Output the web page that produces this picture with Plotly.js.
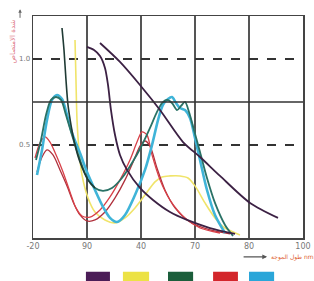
<!DOCTYPE html>
<html>
<head>
<meta charset="utf-8">
<script src="https://cdn.plot.ly/plotly-3.0.1.min.js"></script>
<style>html,body{margin:0;padding:0;background:#fff;}#chart{width:314px;height:281px;}</style>
</head>
<body>
<div id="chart"></div>
<script>
// Tick labels along x (as printed)
const xTickVals = [200, 300, 400, 500, 600, 700];
const xTickText = ["-20", "90", "40", "70", "80", "100"];
const yTickVals = [0.5, 1.0];
const yTickText = ["0.5", "1.0"];

// Series colours (also used for the legend swatches)
const seriesColors = {purple: "#4b1d57", yellow: "#ece245", green: "#1b5e3b", red: "#d3262b", blue: "#2aa6d9"};

// Purple – long decay
const purpleLongX = [324.1, 361.1, 398.1, 435.2, 477.8, 509.3, 546.3, 601.9, 653.7];
const purpleLongY = [1.093, 0.983, 0.849, 0.703, 0.517, 0.430, 0.320, 0.163, 0.076];

// Purple – steep decay
const purpleSteepX = [300.0, 313.0, 324.1, 333.3, 338.9, 344.4, 351.9, 361.1, 374.1, 398.1, 422.2, 453.7, 485.2, 527.8, 574.1];
const purpleSteepY = [1.070, 1.052, 1.017, 0.948, 0.849, 0.703, 0.558, 0.442, 0.355, 0.250, 0.180, 0.110, 0.064, 0.017, -0.017];

// Dark spike
const spikeX = [253.7, 257.4, 261.1, 264.8, 270.4, 277.8, 287.0, 301.9, 314.8];
const spikeY = [1.180, 1.052, 0.878, 0.733, 0.616, 0.500, 0.401, 0.297, 0.250];

// Green
const greenX = [205.6, 214.8, 224.1, 233.3, 242.6, 251.9, 261.1, 272.2, 287.0, 301.9, 314.8, 329.6, 346.3, 364.8, 383.3, 401.9, 416.7, 429.6, 438.9, 448.1, 457.4, 466.7, 474.1, 481.5, 488.9, 498.1, 509.3, 522.2, 537.0, 555.6, 570.4];
const greenY = [0.413, 0.529, 0.674, 0.762, 0.779, 0.762, 0.674, 0.558, 0.413, 0.297, 0.250, 0.233, 0.250, 0.308, 0.395, 0.500, 0.599, 0.692, 0.744, 0.762, 0.744, 0.703, 0.727, 0.750, 0.692, 0.587, 0.459, 0.308, 0.163, 0.035, -0.029];

// Blue
const blueX = [207.4, 216.7, 225.9, 235.2, 244.4, 253.7, 263.0, 272.2, 287.0, 300.0, 314.8, 329.6, 342.6, 355.6, 370.4, 388.9, 407.4, 420.4, 431.5, 440.7, 450.0, 457.4, 464.8, 472.2, 481.5, 490.7, 500.0, 509.3, 522.2, 537.0, 555.6];
const blueY = [0.326, 0.471, 0.645, 0.762, 0.791, 0.767, 0.674, 0.570, 0.453, 0.343, 0.238, 0.140, 0.076, 0.052, 0.093, 0.209, 0.355, 0.500, 0.645, 0.733, 0.767, 0.779, 0.744, 0.715, 0.703, 0.657, 0.541, 0.413, 0.238, 0.093, -0.012];

// Red (two traces)
const redAX = [203.7, 213.0, 222.2, 231.5, 244.4, 255.6, 268.5, 279.6, 290.7, 305.6, 324.1, 342.6, 361.1, 379.6, 392.6, 401.9, 411.1, 420.4, 435.2, 453.7, 481.5, 509.3, 546.3];
const redAY = [0.424, 0.512, 0.547, 0.517, 0.430, 0.343, 0.227, 0.134, 0.087, 0.081, 0.122, 0.198, 0.297, 0.413, 0.517, 0.576, 0.558, 0.442, 0.297, 0.180, 0.076, 0.017, -0.012];
const redBX = [207.4, 216.7, 225.9, 237.0, 250.0, 263.0, 275.9, 287.0, 300.0, 314.8, 333.3, 351.9, 370.4, 387.0, 398.1, 407.4, 416.7, 429.6, 444.4, 463.0, 490.7, 527.8, 564.8];
const redBY = [0.343, 0.430, 0.471, 0.442, 0.355, 0.262, 0.157, 0.093, 0.058, 0.064, 0.110, 0.192, 0.297, 0.413, 0.494, 0.523, 0.494, 0.366, 0.238, 0.134, 0.052, 0.006, -0.017];

// Yellow
const yellowX = [277.8, 279.6, 281.5, 285.2, 290.7, 301.9, 314.8, 333.3, 351.9, 370.4, 388.9, 407.4, 425.9, 438.9, 453.7, 472.2, 487.0, 500.0, 518.5, 537.0, 555.6, 583.3];
const yellowY = [1.110, 0.878, 0.645, 0.471, 0.326, 0.192, 0.110, 0.064, 0.047, 0.076, 0.134, 0.209, 0.285, 0.314, 0.320, 0.320, 0.308, 0.262, 0.163, 0.076, 0.017, -0.023];

const legendOrder = ["purple", "yellow", "green", "red", "blue"];

function line(x, y, color, width) {
  return {x: x, y: y, type: "scatter", mode: "lines", line: {color: color, width: width, shape: "spline", smoothing: 0.8}, hoverinfo: "skip"};
}

const traces = [
  line(yellowX, yellowY, "#f0e46a", 1.6),
  line(redBX, redBY, "#b0303c", 1.3),
  line(redAX, redAY, "#d84048", 1.3),
  line(blueX, blueY, "#3fb4d8", 2.6),
  line(greenX, greenY, "#2a7266", 1.8),
  line(spikeX, spikeY, "#1f3a34", 1.6),
  line(purpleSteepX, purpleSteepY, "#3c2144", 1.8),
  line(purpleLongX, purpleLongY, "#3c2144", 1.8)
];

const shapes = [
  {type: "line", xref: "paper", x0: 0, x1: 1, yref: "y", y0: 0.75, y1: 0.75, line: {color: "#333", width: 1.5}}
];
const swatchX = [[0.196, 0.285], [0.333, 0.430], [0.500, 0.593], [0.667, 0.759], [0.800, 0.893]];
legendOrder.forEach((k, i) => {
  shapes.push({type: "rect", xref: "paper", yref: "paper", x0: swatchX[i][0], x1: swatchX[i][1], y0: -0.2, y1: -0.152, fillcolor: seriesColors[k], line: {width: 0}});
});

const layout = {
  width: 314, height: 281,
  margin: {l: 33, r: 11, t: 16, b: 43},
  paper_bgcolor: "#fff", plot_bgcolor: "#fff",
  showlegend: false,
  font: {family: "DejaVu Sans", size: 8, color: "#666"},
  xaxis: {
    range: [200, 700], tickvals: xTickVals, ticktext: xTickText,
    showgrid: true, gridcolor: "#555", gridwidth: 1.5,
    showline: true, mirror: true, linecolor: "#444", linewidth: 1.5,
    zeroline: false, ticks: "", tickfont: {size: 8, color: "#777"}
  },
  yaxis: {
    range: [-0.041, 1.25], tickvals: yTickVals, ticktext: yTickText,
    showgrid: true, gridcolor: "#333", gridwidth: 1.3, griddash: "dash",
    showline: true, mirror: true, linecolor: "#444", linewidth: 1.5,
    zeroline: false, ticks: "", tickfont: {size: 7, color: "#777"}
  },
  shapes: shapes,
  annotations: [
    {xref: "paper", yref: "paper", x: -0.095, y: 0.995, yanchor: "top", text: "شدة الامتصاص", textangle: -90, showarrow: false,
     font: {size: 7, color: "#e07a8a", family: "DejaVu Sans"}},
    {xref: "paper", yref: "paper", x: -0.048, y: 1.03, ax: 0, ay: 10, text: "", showarrow: true,
     arrowhead: 2, arrowsize: 0.7, arrowwidth: 1, arrowcolor: "#666"},
    {xref: "paper", yref: "paper", x: 0.867, y: -0.085, ax: -25, ay: 0, text: "", showarrow: true,
     arrowhead: 2, arrowsize: 0.8, arrowwidth: 1.2, arrowcolor: "#555"},
    {xref: "paper", yref: "paper", x: 0.875, y: -0.085, xanchor: "left", yanchor: "middle", text: "طول الموجة nm", showarrow: false,
     font: {size: 6, color: "#e06030", family: "DejaVu Sans"}}
  ]
};

Plotly.newPlot("chart", traces, layout, {staticPlot: true, displayModeBar: false});
</script>
</body>
</html>
